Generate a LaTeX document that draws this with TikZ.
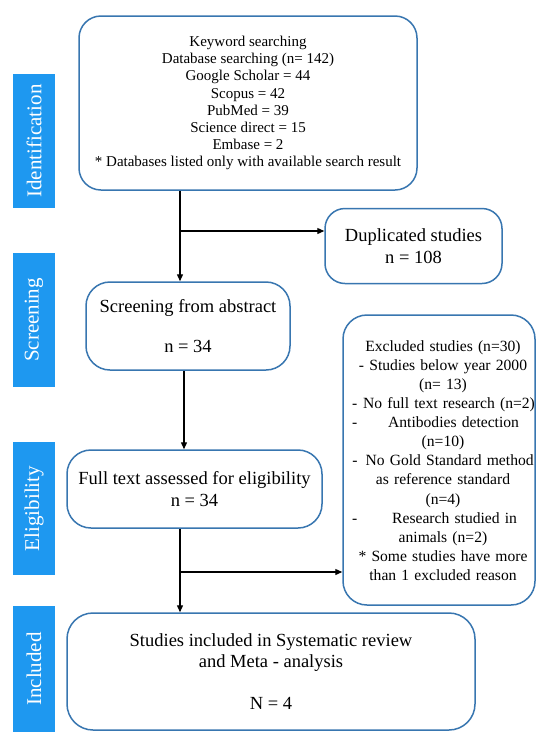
\documentclass[tikz,border=0pt]{standalone}
\usepackage{fontspec}
\setmainfont{Liberation Serif}
\usetikzlibrary{arrows.meta}
\definecolor{boxblue}{RGB}{56,118,176}
\definecolor{labblue}{RGB}{30,152,240}
\begin{document}
\begin{tikzpicture}[x=1pt,y=-1pt,
  flowbox/.style={draw=boxblue, line width=1.5pt, rounded corners=22pt, fill=white, align=center, inner sep=0pt},
  bigtxt/.style={font=\fontsize{18.5}{21.5}\selectfont},
  smalltxt/.style={font=\fontsize{15}{17.1}\selectfont},
  exctxtstyle/.style={font=\fontsize{15.6}{19.1}\selectfont},
  stage/.style={fill=labblue, text=white, rotate=90, minimum height=42pt, inner sep=0pt, font=\fontsize{21}{24}\selectfont},
  arr/.style={draw=black, line width=1.3pt, -{Triangle[length=7pt,width=6pt]}}]
\useasboundingbox (0,0) rectangle (537,732);
\fill[white] (0,0) rectangle (537,732);

% stage labels
\node[stage, minimum width=134pt] (lid) at (34,141) {Identification};
\node[stage, minimum width=134pt] (lsc) at (34,320) {Screening};
\node[stage, minimum width=133pt] (lel) at (34,508.5) {Eligibility};
\node[stage, minimum width=126pt] (lin) at (34,669) {Included};

% boxes
\node[flowbox, smalltxt, minimum width=338pt, minimum height=174pt] (top) at (248,103)
  {Keyword searching\\Database searching (n= 142)\\Google Scholar = 44\\Scopus = 42\\PubMed = 39\\Science direct = 15\\Embase = 2\\\relax * Databases listed only with available search result};
\node[flowbox, bigtxt, minimum width=177pt, minimum height=75pt, rounded corners=20pt] (dup) at (413.5,246)
  {Duplicated studies\\n = 108};
\node[flowbox, bigtxt, minimum width=204pt, minimum height=88pt, rounded corners=24pt] (scr) at (188,326)
  {Screening from abstract\\[18pt]n = 34};
\node[flowbox, minimum width=192pt, minimum height=290pt, rounded corners=24pt] (exc) at (439,460) {};
\node[exctxtstyle, text width=182pt, align=center, inner sep=0pt] (exctxt) at (443,460.5)
  {\mbox{Excluded studies (n=30)}\\
   \mbox{- Studies below year 2000}\\
   (n= 13)\\
   \mbox{-\hspace{6pt}No full text research (n=2)}\\
   -\hspace{0pt plus 1filll}\mbox{Antibodies detection}\hspace{15pt}\null\\
   (n=10)\\
   \mbox{-\hspace{8pt}No Gold Standard method}\\
   \mbox{as reference standard}\\
   (n=4)\\
   -\hspace{0pt plus 1filll}\mbox{Research studied in}\hspace{17pt}\null\\
   \mbox{animals (n=2)}\\
   \relax\mbox{* Some studies have more}\\
   \mbox{than 1 excluded reason}};
\node[flowbox, bigtxt, minimum width=255pt, minimum height=78pt, rounded corners=24pt] (full) at (194.5,489)
  {Full text assessed for eligibility\\n = 34};
\node[flowbox, bigtxt, minimum width=408pt, minimum height=117pt, rounded corners=26pt] (inc) at (271,671.5)
  {Studies included in Systematic review\\and Meta - analysis\\[20pt]N = 4};

% connectors
\coordinate (t1) at (180,231);
\coordinate (t2) at (184,410);
\coordinate (t3) at (180,572);
\draw[arr] (top.south -| t1) -- (scr.north -| t1);
\draw[arr] (t1) -- (t1 -| dup.west);
\draw[arr] (scr.south -| t2) -- (full.north -| t2);
\draw[arr] (full.south -| t3) -- (inc.north -| t3);
\draw[arr] (t3) -- (t3 -| exc.west);
\end{tikzpicture}
\end{document}
